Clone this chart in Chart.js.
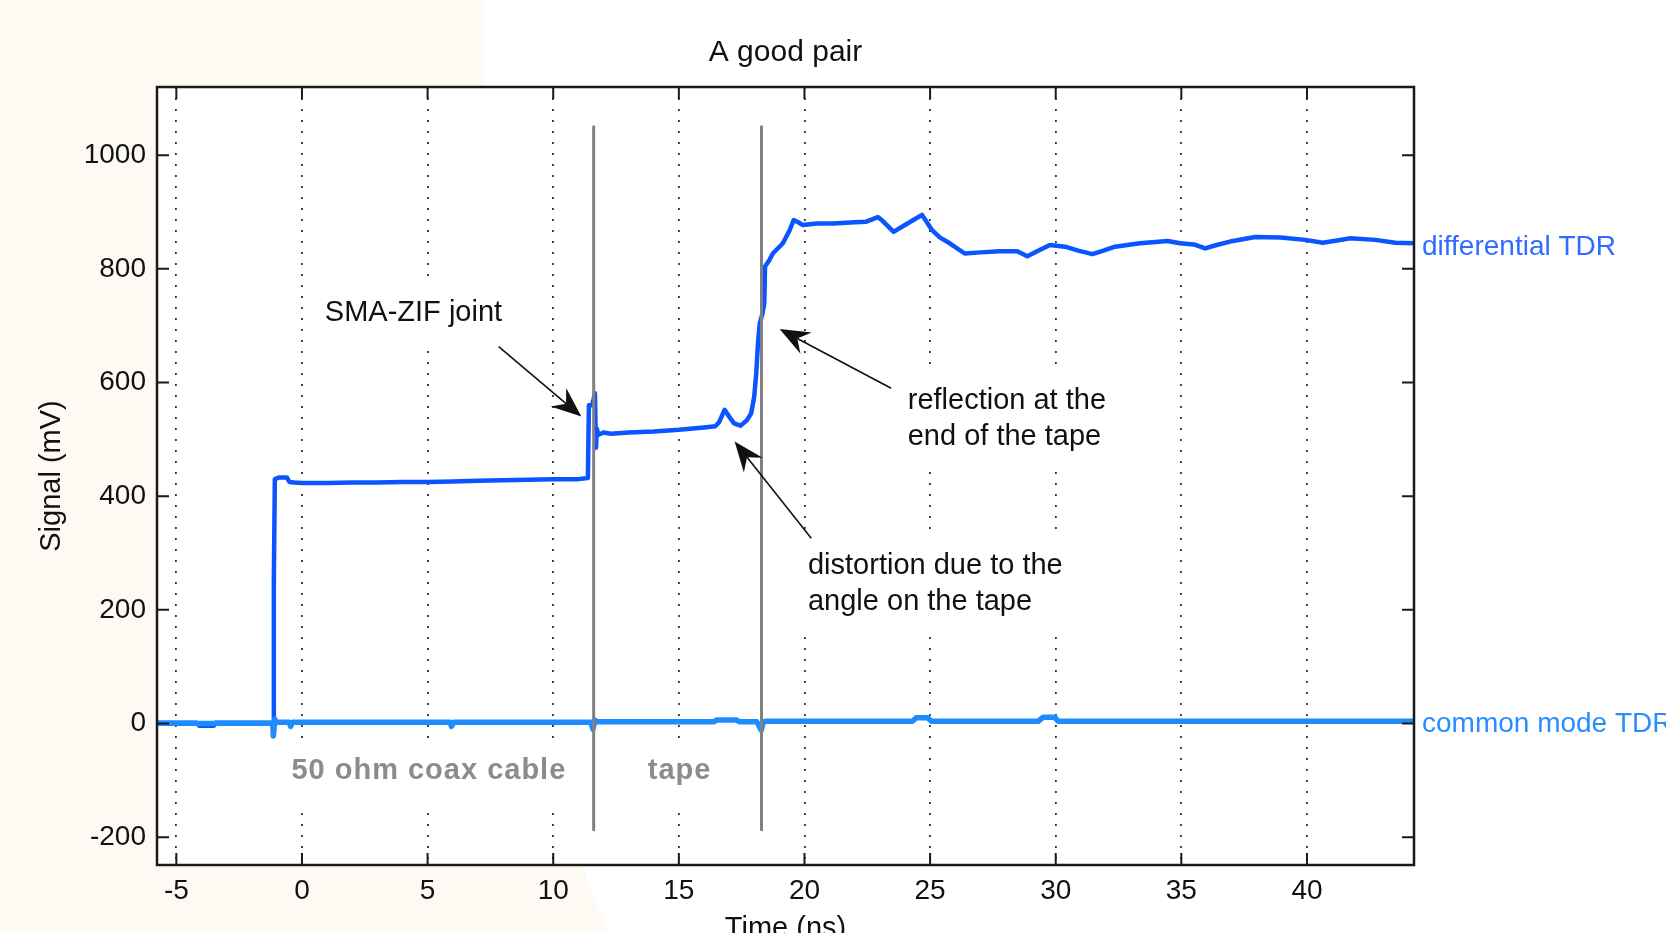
<!DOCTYPE html>
<html>
<head>
<meta charset="utf-8">
<script src="https://cdn.jsdelivr.net/npm/chart.js@4/dist/chart.umd.min.js"></script>
<style>
html,body{margin:0;padding:0;background:#fff;overflow:hidden}
#wrap{width:1666px;height:933px;position:relative}
</style>
</head>
<body>
<div id="wrap"><canvas id="c"></canvas></div>
<script>
// ---- data ----
const chartTitle = 'A good pair';
const xTitle = 'Time (ns)';
const yTitle = 'Signal (mV)';
const xTickValues = [-5, 0, 5, 10, 15, 20, 25, 30, 35, 40];
const yTickValues = [-200, 0, 200, 400, 600, 800, 1000];
const xRange = [-5.77, 44.26];
const yRange = [-249, 1120];

const diffTime = [
  -5.77, -4.15, -4.1, -3.5, -3.45, -1.16, -1.14, -1.12, -1.08, -0.9,
  -0.6, -0.5, -0.3, 0, 1, 2, 3, 4, 5, 6,
  7, 8, 9, 10, 11, 11.38, 11.42, 11.55, 11.66, 11.7,
  11.74, 11.8, 12.0, 12.3, 13, 14, 15, 16, 16.45, 16.6,
  16.82, 17.0, 17.2, 17.45, 17.7, 17.88, 18.0, 18.08, 18.15, 18.22,
  18.32, 18.4, 18.43, 18.6, 18.74, 19.14, 19.41, 19.57, 19.75, 19.94,
  20.5, 21.13, 22.0, 22.46, 22.92, 23.1, 23.55, 23.8, 24.3, 24.68,
  25.08, 25.4, 25.78, 26.38, 27.0, 27.77, 28.47, 28.87, 29.3, 29.77,
  30.37, 30.9, 31.46, 31.9, 32.36, 33.35, 34.45, 34.95, 35.5, 35.95,
  36.4, 36.94, 37.94, 38.94, 39.93, 40.63, 41.2, 41.73, 42.72, 43.52,
  44.26
];
const diffSignal = [
  0, 0, -4, -4, 0, 0, -20, 250, 430, 433,
  433, 425, 424, 423, 423, 424, 424, 425, 425, 426,
  427, 428, 429, 430, 430, 432, 560, 560, 581, 485,
  518, 508, 512, 510, 512, 514, 517, 521, 523, 530,
  552, 540, 528, 524, 533, 546, 575, 616, 669, 704,
  720, 739, 804, 815, 827, 845, 868, 886, 882, 877,
  880, 880, 882, 883, 891, 885, 865, 872, 885, 895,
  868, 855, 845, 827, 829, 831, 831, 822, 832, 842,
  839, 832, 826, 832, 839, 845, 849, 845, 843, 836,
  842, 848, 856, 855, 851, 846, 850, 854, 851, 846,
  845
];

const cmTime = [
  -5.77, -4.2, -4.15, -3.5, -3.45, -1.16, -1.14, -1.08, -1.04, -0.5,
  -0.45, -0.38, 5.9, 5.95, 6.05, 11.5, 11.58, 11.66, 11.75, 16.4,
  16.5, 17.3, 17.4, 18.1, 18.28, 18.36, 18.5, 24.3, 24.45, 24.9,
  25.05, 29.3, 29.5, 29.95, 30.1, 44.26
];
const cmSignal = [
  1, 1, 0, 0, 1, 1, -22, 8, 2, 2,
  -5, 2, 2, -5, 2, 2, -10, 6, 3, 3,
  6, 6, 3, 3, -12, 3, 4, 4, 10, 10,
  4, 4, 11, 11, 4, 4
];

const markerTimes = [11.61, 18.29];
const markerTop = 1050;
const markerBottom = -187;

const seriesLabels = ['differential TDR', 'common mode TDR'];
const seriesLabelLevels = [838, -2];

// ---- styles ----
const FONT = "'Liberation Sans', Arial, Helvetica, sans-serif";
const DIFF_COLOR = '#0a55ff';
const CM_COLOR = '#1e8cff';

const pts = (xs, ys) => xs.map((x, i) => ({x, y: ys[i]}));

const datasets = [];
markerTimes.forEach(t => {
  datasets.push({
    data: [{x: t, y: markerTop}, {x: t, y: markerBottom}],
    borderColor: '#808080', borderWidth: 3, pointRadius: 0
  });
});
datasets.push({data: pts(cmTime, cmSignal), borderColor: CM_COLOR, borderWidth: 5.5, pointRadius: 0});
datasets.push({data: pts(diffTime, diffSignal), borderColor: DIFF_COLOR, borderWidth: 4.5, pointRadius: 0});

// annotations: text in data coordinates
const notes = [
  {lines: ['SMA-ZIF joint'], x: 0.91, y: 723},
  {lines: ['reflection at the', 'end of the tape'], x: 24.11, y: 568},
  {lines: ['distortion due to the', 'angle on the tape'], x: 20.14, y: 278},
];
const grayNotes = [
  {text: '50 ohm coax cable', x: 5.05, y: -84},
  {text: 'tape', x: 15.03, y: -84},
];
const arrows = [
  {from: [7.83, 663], to: [11.12, 540]},
  {from: [23.45, 590], to: [19.01, 694]},
  {from: [20.27, 326], to: [17.22, 496]},
];

const decor = {
  id: 'decor',
  beforeDraw(chart) {
    const {ctx, chartArea: a, height} = chart;
    ctx.save();
    ctx.fillStyle = '#fff';
    ctx.fillRect(0, 0, chart.width, height);
    ctx.fillStyle = '#fdfaf3';
    ctx.beginPath();
    ctx.moveTo(0, 0); ctx.lineTo(484, 0); ctx.lineTo(484, a.top);
    ctx.lineTo(a.left, a.top); ctx.lineTo(a.left, a.bottom);
    ctx.lineTo(582, a.bottom); ctx.lineTo(608, height); ctx.lineTo(0, height);
    ctx.closePath(); ctx.fill();
    ctx.restore();
  },
  afterDatasetsDraw(chart) {
    const {ctx, chartArea: a, scales: {x, y}} = chart;
    ctx.save();
    // text boxes
    ctx.font = '29px ' + FONT;
    ctx.textBaseline = 'middle';
    ctx.textAlign = 'left';
    const lh = 36.6;
    notes.forEach(n => {
      const px = x.getPixelForValue(n.x), py = y.getPixelForValue(n.y);
      const w = Math.max(...n.lines.map(l => ctx.measureText(l).width));
      ctx.fillStyle = '#fff';
      ctx.fillRect(px - 6, py - 30, w + 12, lh * (n.lines.length - 1) + 62);
      ctx.fillStyle = '#111';
      n.lines.forEach((l, i) => ctx.fillText(l, px, py + i * lh));
    });
    ctx.font = 'bold 29px ' + FONT;
    ctx.letterSpacing = '1px';
    ctx.textAlign = 'center';
    grayNotes.forEach(n => {
      const px = x.getPixelForValue(n.x), py = y.getPixelForValue(n.y);
      const w = ctx.measureText(n.text).width;
      ctx.fillStyle = '#fff';
      ctx.fillRect(px - w / 2 - 6, py - 32, w + 12, 66);
      ctx.fillStyle = '#8c8c8c';
      ctx.fillText(n.text, px, py);
    });
    ctx.letterSpacing = '0px';
    // arrows
    arrows.forEach(ar => {
      const x0 = x.getPixelForValue(ar.from[0]), y0 = y.getPixelForValue(ar.from[1]);
      const x1 = x.getPixelForValue(ar.to[0]), y1 = y.getPixelForValue(ar.to[1]);
      const ang = Math.atan2(y1 - y0, x1 - x0);
      const L = 30, W = 12, N = 20;
      ctx.strokeStyle = '#111'; ctx.lineWidth = 1.6;
      ctx.beginPath(); ctx.moveTo(x0, y0);
      ctx.lineTo(x1 - N * Math.cos(ang), y1 - N * Math.sin(ang)); ctx.stroke();
      const cx = Math.cos(ang), sy = Math.sin(ang);
      ctx.fillStyle = '#111';
      ctx.beginPath();
      ctx.moveTo(x1, y1);
      ctx.lineTo(x1 - L * cx - W * sy, y1 - L * sy + W * cx);
      ctx.lineTo(x1 - N * cx, y1 - N * sy);
      ctx.lineTo(x1 - L * cx + W * sy, y1 - L * sy - W * cx);
      ctx.closePath(); ctx.fill();
    });
    // frame + inner ticks
    ctx.strokeStyle = '#1a1a1a';
    ctx.lineWidth = 2.5;
    ctx.strokeRect(a.left, a.top, a.right - a.left, a.bottom - a.top);
    ctx.lineWidth = 2;
    const T = 12;
    xTickValues.forEach(v => {
      const p = x.getPixelForValue(v);
      ctx.beginPath();
      ctx.moveTo(p, a.bottom); ctx.lineTo(p, a.bottom - T);
      ctx.moveTo(p, a.top); ctx.lineTo(p, a.top + T);
      ctx.stroke();
    });
    yTickValues.forEach(v => {
      const p = y.getPixelForValue(v);
      ctx.beginPath();
      ctx.moveTo(a.left, p); ctx.lineTo(a.left + T, p);
      ctx.moveTo(a.right, p); ctx.lineTo(a.right - T, p);
      ctx.stroke();
    });
    ctx.restore();
  },
  afterDraw(chart) {
    const {ctx, chartArea: a, scales: {y}} = chart;
    ctx.save();
    ctx.font = '28px ' + FONT;
    ctx.textBaseline = 'middle';
    ctx.textAlign = 'left';
    const cols = ['#2f6cff', '#2a8dff'];
    seriesLabels.forEach((s, i) => {
      ctx.fillStyle = cols[i];
      ctx.fillText(s, a.right + 8, y.getPixelForValue(seriesLabelLevels[i]));
    });
    ctx.restore();
  }
};

new Chart(document.getElementById('c'), {
  type: 'line',
  data: {datasets},
  plugins: [decor],
  options: {
    responsive: true,
    maintainAspectRatio: false,
    animation: false,
    events: [],
    layout: {padding: {left: 0, right: 252, top: 0, bottom: 0}},
    elements: {line: {tension: 0, borderJoinStyle: 'round', borderCapStyle: 'butt'}},
    plugins: {
      legend: {display: false},
      tooltip: {enabled: false},
      title: {
        display: true, text: chartTitle, fullSize: false,
        color: '#111', font: {family: FONT, size: 30, weight: 'normal', lineHeight: 1.2},
        padding: {top: 35, bottom: 16}
      }
    },
    scales: {
      x: {
        type: 'linear', min: xRange[0], max: xRange[1],
        afterBuildTicks: s => { s.ticks = xTickValues.map(v => ({value: v})); },
        afterFit: s => { s.height = 68; },
        grid: {color: '#333', lineWidth: 1.8, drawTicks: false},
        border: {display: false, dash: [2, 9]},
        ticks: {
          color: '#111', padding: 9, autoSkip: false, maxRotation: 0,
          font: {family: FONT, size: 28},
          callback: v => String(v)
        },
        title: {
          display: true, text: xTitle, color: '#111',
          font: {family: FONT, size: 29, lineHeight: 1.2},
          padding: {top: 0, bottom: -13}
        }
      },
      y: {
        type: 'linear', min: yRange[0], max: yRange[1],
        afterBuildTicks: s => { s.ticks = yTickValues.map(v => ({value: v})); },
        afterFit: s => { s.width = 157; },
        grid: {display: false, drawTicks: false},
        border: {display: false},
        ticks: {
          color: '#111', padding: 11,
          font: {family: FONT, size: 28},
          callback: v => String(v)
        },
        title: {
          display: true, text: yTitle, color: '#111',
          font: {family: FONT, size: 29, lineHeight: 1.2},
          padding: {top: 35, bottom: 0}
        }
      }
    }
  }
});
</script>
</body>
</html>
